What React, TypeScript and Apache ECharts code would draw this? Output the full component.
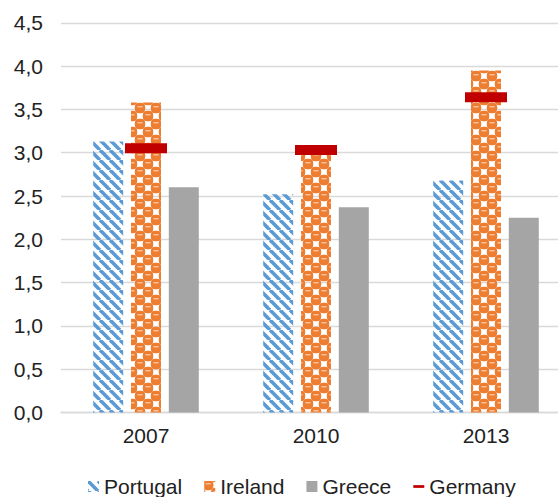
import React, { useEffect, useRef } from "react";
import * as echarts from "echarts";

const years = ["2007", "2010", "2013"];
const portugal = [3.13, 2.52, 2.68];
const ireland = [3.58, 3.05, 3.95];
const greece = [2.6, 2.37, 2.25];
const germany = [3.05, 3.03, 3.64];
const yMin = 0;
const yMax = 4.5;
const yStep = 0.5;

const FONT = "'Liberation Sans', Arial, sans-serif";
const TEXT = "#222222";

function hatchCanvas(): HTMLCanvasElement {
  const p = 10;
  const c = document.createElement("canvas");
  c.width = p;
  c.height = p;
  const ctx = c.getContext("2d")!;
  ctx.strokeStyle = "#5B9BD5";
  ctx.lineWidth = 3.6;
  for (let x0 = -2 * p; x0 <= 2 * p; x0 += p) {
    ctx.beginPath();
    ctx.moveTo(x0, 0);
    ctx.lineTo(x0 + p, p);
    ctx.stroke();
  }
  return c;
}

function roundRect(ctx: CanvasRenderingContext2D, x: number, y: number, w: number, h: number, r: number) {
  ctx.beginPath();
  ctx.moveTo(x + r, y);
  ctx.lineTo(x + w - r, y);
  ctx.quadraticCurveTo(x + w, y, x + w, y + r);
  ctx.lineTo(x + w, y + h - r);
  ctx.quadraticCurveTo(x + w, y + h, x + w - r, y + h);
  ctx.lineTo(x + r, y + h);
  ctx.quadraticCurveTo(x, y + h, x, y + h - r);
  ctx.lineTo(x, y + r);
  ctx.quadraticCurveTo(x, y, x + r, y);
  ctx.closePath();
  ctx.fill();
}

function sphereCanvas(): HTMLCanvasElement {
  const c = document.createElement("canvas");
  c.width = 16;
  c.height = 16;
  const ctx = c.getContext("2d")!;
  const cells = [
    [0, 0],
    [8, 8],
    [16, 0],
    [0, 16],
    [16, 16],
    [-8, 8],
    [8, -8],
    [24, 8],
    [8, 24],
  ];
  ctx.fillStyle = "#ED7D31";
  for (const [x, y] of cells) {
    roundRect(ctx, x - 1.2, y - 1.2, 10.4, 10.4, 4.4);
  }
  ctx.fillStyle = "rgba(251,215,190,0.95)";
  for (const [x, y] of cells) {
    ctx.fillRect(x + 1.5, y + 2.2, 5, 1.2);
  }
  return c;
}

export default function App() {
  const ref = useRef<HTMLDivElement>(null);
  useEffect(() => {
    if (!ref.current) return;
    const chart = echarts.init(ref.current, undefined, { renderer: "svg" });
    const hatch = { image: hatchCanvas(), repeat: "repeat" } as any;
    const sphere = { image: sphereCanvas(), repeat: "repeat" } as any;
    chart.setOption({
      animation: false,
      textStyle: { fontFamily: FONT },
      grid: {
        left: 61,
        top: 22.8,
        width: 510,
        height: 389.7,
        containLabel: false,
        outerBoundsMode: "none",
      },
      legend: {
        left: 88,
        top: 476,
        padding: 0,
        itemGap: 22,
        itemWidth: 11,
        itemHeight: 11,
        icon: "rect",
        textStyle: { fontSize: 21, color: TEXT, fontFamily: FONT },
        data: [
          { name: "Portugal" },
          { name: "Ireland" },
          { name: "Greece" },
          { name: "Germany", icon: "path://M0,0 M12,11 M0,4 L12,4 L12,7 L0,7 Z" },
        ],
      },
      xAxis: {
        type: "category",
        data: years,
        axisLine: { show: true, lineStyle: { color: "#D9D9D9", width: 1.3 } },
        axisTick: { show: false },
        axisLabel: { fontSize: 21, color: TEXT, margin: 12, fontFamily: FONT },
      },
      yAxis: {
        type: "value",
        min: yMin,
        max: yMax,
        interval: yStep,
        axisLine: { show: false },
        axisTick: { show: false },
        splitLine: { lineStyle: { color: "#D9D9D9", width: 1.3 } },
        axisLabel: {
          fontSize: 21,
          color: TEXT,
          margin: 18,
          fontFamily: FONT,
          formatter: (v: number) => v.toFixed(1).replace(".", ","),
        },
      },
      series: [
        {
          name: "Portugal",
          type: "bar",
          data: portugal,
          barWidth: 30,
          barGap: "26%",
          itemStyle: { color: hatch },
        },
        {
          name: "Ireland",
          type: "bar",
          data: ireland,
          barWidth: 30,
          barGap: "26%",
          itemStyle: { color: sphere },
        },
        {
          name: "Greece",
          type: "bar",
          data: greece,
          barWidth: 30,
          barGap: "26%",
          itemStyle: { color: "#A5A5A5" },
        },
        {
          name: "Germany",
          type: "scatter",
          data: germany,
          symbol: "rect",
          symbolSize: [42, 10],
          z: 5,
          itemStyle: { color: "#C00000", opacity: 1 },
        },
      ],
    });
    return () => chart.dispose();
  }, []);
  return (
    <div
      ref={ref}
      style={{ position: "fixed", left: 0, top: 0, width: 558, height: 497, background: "#fff" }}
    />
  );
}
